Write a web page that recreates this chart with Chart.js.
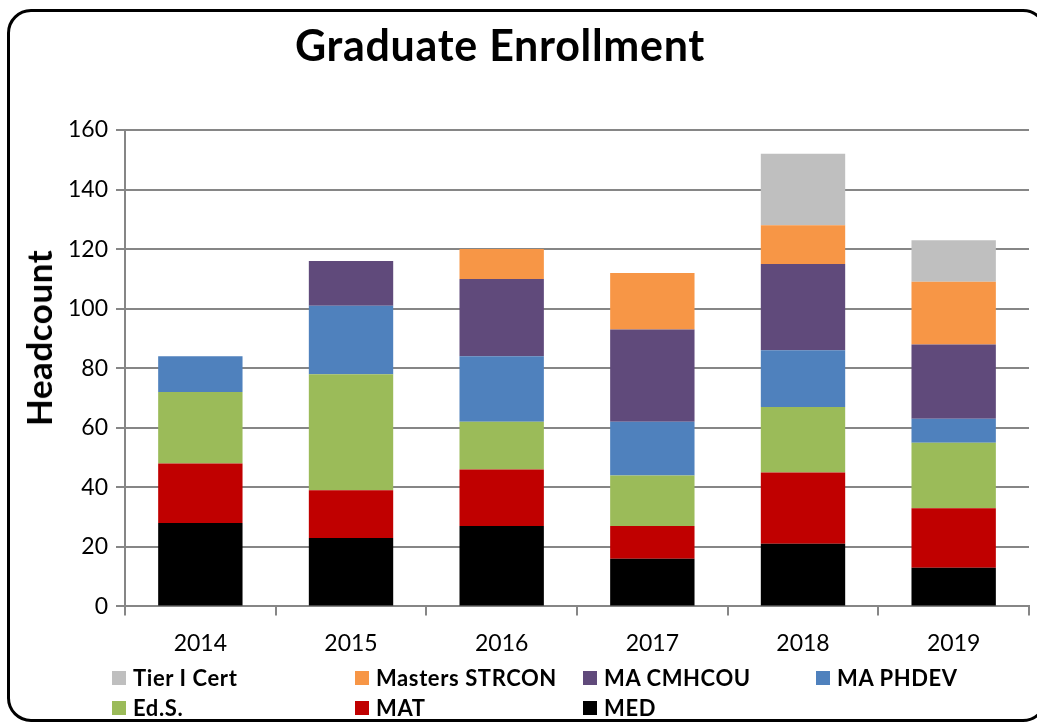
<!DOCTYPE html>
<html>
<head>
<meta charset="utf-8">
<script src="https://cdn.jsdelivr.net/npm/chart.js@4/dist/chart.umd.min.js"></script>
<style>
  html, body { margin: 0; padding: 0; background: #fff; }
  #wrap { position: relative; width: 1037px; height: 723px; overflow: hidden; }
  #frame {
    position: absolute; left: 7px; top: 9px; width: 1040px; height: 713px;
    border: 3px solid #000; border-radius: 24px; box-sizing: border-box;
  }
  #chart { position: absolute; left: 0; top: 0; }
  #title { position: absolute; left: 0; width: 1000px; top: 18px; text-align: center;
    font-family: Lato, sans-serif; font-weight: bold; font-size: 43px; line-height: 54px;
    letter-spacing: 0.7px; color: #000; }
  #ytitle { position: absolute; left: 38px; top: 338px; transform: translate(-50%, -50%) rotate(-90deg);
    font-family: Lato, sans-serif; font-weight: bold; font-size: 35px; line-height: 40px;
    letter-spacing: 0.5px; white-space: nowrap; color: #000; }
  #legend { position: absolute; left: 0; top: 664px; width: 1037px; height: 60px;
    font-family: Lato, sans-serif; font-weight: bold; font-size: 22px; letter-spacing: 0.6px; color: #000; }
  .item { position: absolute; display: flex; align-items: center; white-space: nowrap; line-height: 28px; }
  .sw { width: 14px; height: 14px; margin-right: 7px; }
</style>
</head>
<body>
<div id="wrap">
  <div id="frame"></div>
  <canvas id="chart" width="1037" height="723"></canvas>
  <div id="title">Graduate Enrollment</div>
  <div id="ytitle">Headcount</div>
  <div id="legend"></div>
</div>
<script>
/* ── data ─────────────────────────────────────────────────────── */
const years    = ["2014", "2015", "2016", "2017", "2018", "2019"];
const med      = [28, 23, 27, 16, 21, 13];
const mat      = [20, 16, 19, 11, 24, 20];
const eds      = [24, 39, 16, 17, 22, 22];
const maPhdev  = [12, 23, 22, 18, 19, 8];
const maCmhcou = [0, 15, 26, 31, 29, 25];
const strcon   = [0, 0, 10, 19, 13, 21];
const tierCert = [0, 0, 0, 0, 24, 14];
const yTicks   = [0, 20, 40, 60, 80, 100, 120, 140, 160];

// stacking order bottom -> top
const series = [
  { label: "MED",            data: med,      color: "#000000" },
  { label: "MAT",            data: mat,      color: "#c00000" },
  { label: "Ed.S.",          data: eds,      color: "#9bbb59" },
  { label: "MA PHDEV",       data: maPhdev,  color: "#4f81bd" },
  { label: "MA CMHCOU",      data: maCmhcou, color: "#604a7b" },
  { label: "Masters STRCON", data: strcon,   color: "#f79646" },
  { label: "Tier I Cert",    data: tierCert, color: "#bfbfbf" }
];

const gridGray = "#868686";

new Chart(document.getElementById("chart"), {
  type: "bar",
  data: {
    labels: years,
    datasets: series.map(s => ({
      label: s.label,
      data: s.data,
      backgroundColor: s.color,
      borderWidth: 0,
      barPercentage: 0.56,
      categoryPercentage: 1.0
    }))
  },
  options: {
    responsive: false,
    animation: false,
    layout: { padding: { left: 60, right: 8, top: 130, bottom: 52 } },
    plugins: {
      legend: { display: false },
      tooltip: { enabled: false },
      title: { display: false }
    },
    scales: {
      x: {
        stacked: true,
        grid: { display: true, drawOnChartArea: false, drawTicks: true, tickLength: 9,
                color: gridGray, lineWidth: 2, offset: true },
        border: { display: true, color: gridGray, width: 2 },
        ticks: { color: "#000", font: { family: "Lato", size: 23 }, padding: 14 }
      },
      y: {
        stacked: true,
        min: 0,
        max: 160,
        afterBuildTicks: axis => { axis.ticks = yTicks.map(v => ({ value: v })); },
        grid: { color: gridGray, lineWidth: 2, tickLength: 9 },
        border: { display: true, color: gridGray, width: 2 },
        ticks: { color: "#000", font: { family: "Lato", size: 23 }, padding: 8 }
      }
    }
  }
});

/* ── HTML legend, 4 columns ───────────────────────────────────── */
const legendOrder = series.slice().reverse();
const colX = [112, 355, 583, 816];
const rowY = [0, 30];
const legend = document.getElementById("legend");
legendOrder.forEach((s, i) => {
  const el = document.createElement("div");
  el.className = "item";
  el.style.left = colX[i % 4] + "px";
  el.style.top  = rowY[Math.floor(i / 4)] + "px";
  el.innerHTML = `<span class="sw" style="background:${s.color}"></span>${s.label}`;
  legend.appendChild(el);
});
</script>
</body>
</html>
